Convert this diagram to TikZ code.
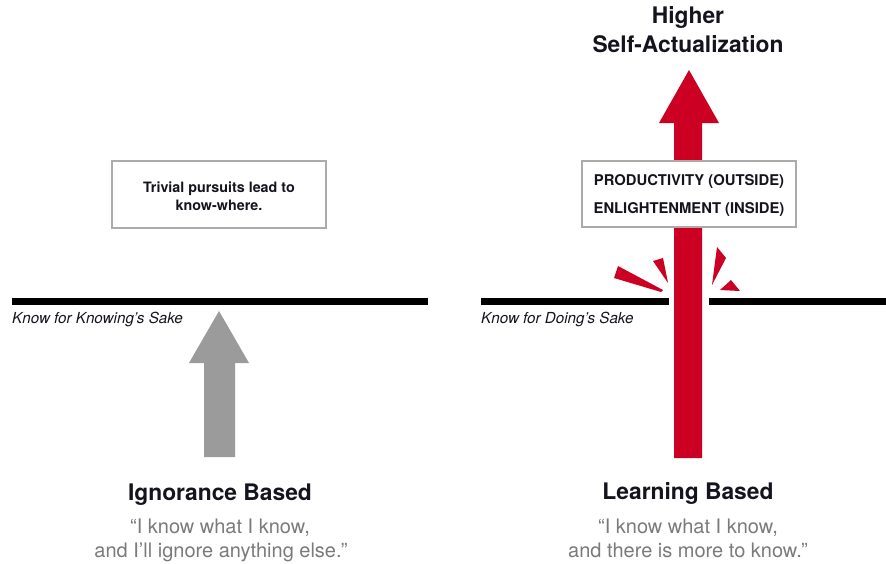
\documentclass[tikz,border=0pt]{standalone}
\usepackage{fontspec}
\setmainfont{TeX Gyre Heros}
\definecolor{redA}{HTML}{CC0022}
\definecolor{grayA}{HTML}{9B9B9B}
\definecolor{boxgray}{HTML}{ABABAB}
\definecolor{quotegray}{HTML}{7A7A7A}
\definecolor{ink}{HTML}{14141E}
\begin{document}
\begin{tikzpicture}[x=1pt,y=-1pt,
  bar/.style={fill=black},
  msgbox/.style={draw=boxgray, line width=1.8pt, fill=white, minimum width=214pt, inner sep=0pt},
  boxtext/.style={anchor=base, inner sep=0pt, text=ink, font=\bfseries\fontsize{14.3}{17}\selectfont},
  capstext/.style={anchor=base, inner sep=0pt, text=ink, font=\bfseries\fontsize{14.8}{17}\selectfont},
  titletext/.style={anchor=base, inner sep=0pt, text=ink, font=\bfseries\fontsize{22.8}{26}\selectfont},
  quotetext/.style={anchor=base, inner sep=0pt, text=quotegray, font=\fontsize{20}{24}\selectfont},
  linelabel/.style={anchor=base west, inner sep=0pt, text=ink, font=\itshape\fontsize{15.2}{18}\selectfont},
  spark/.style={fill=redA}]
\useasboundingbox (0,0) rectangle (886,563);
% horizontal lines
\fill[bar] (12,297.5) rectangle (428,304.5);
\fill[bar] (481,297.5) rectangle (669,304.5);
\fill[bar] (709,297.5) rectangle (886,304.5);
% gray arrow
\fill[grayA] (204,457) -- (204,363) -- (189,363) -- (219,311) -- (249,363) -- (235,363) -- (235,457) -- cycle;
% red arrow
\fill[redA] (674,458) -- (674,123) -- (659,123) -- (689,70) -- (719,123) -- (702,123) -- (702,458) -- cycle;
% boxes
\node[msgbox, minimum height=67pt] (triv) at (219,194.5) {};
\node[msgbox, minimum height=66pt] (prod) at (689,194) {};
\node[boxtext] (t1) at (219,192) {Trivial pursuits lead to};
\node[boxtext] (t2) at (219,210) {know-where.};
\node[capstext] (p1) at (689,185) {PRODUCTIVITY (OUTSIDE)};
\node[capstext] (p2) at (689,213) {ENLIGHTENMENT (INSIDE)};
% sparks
\fill[spark] (614,278) -- (618,266) -- (663,290) -- (661,292) -- cycle;
\fill[spark] (653,261) -- (663,258) -- (668,283) -- cycle;
\fill[spark] (717,247) -- (726,258) -- (712,285) -- cycle;
\fill[spark] (720,290) -- (731,280) -- (740,291) -- cycle;
% titles
\node[titletext] (h1) at (688,23) {Higher};
\node[titletext] (h2) at (688,52) {Self-Actualization};
\node[titletext] (ib) at (220,500) {Ignorance Based};
\node[titletext] (lb) at (688,499) {Learning Based};
% quotes
\node[quotetext] (q1) at (220,533) {“I know what I know,};
\node[quotetext] (q2) at (221,557) {and I’ll ignore anything else.”};
\node[quotetext] (q3) at (688,533) {“I know what I know,};
\node[quotetext] (q4) at (688,557) {and there is more to know.”};
% line labels
\node[linelabel] (k1) at (12,323) {Know for Knowing’s Sake};
\node[linelabel] (k2) at (481,323) {Know for Doing’s Sake};
\end{tikzpicture}
\end{document}
